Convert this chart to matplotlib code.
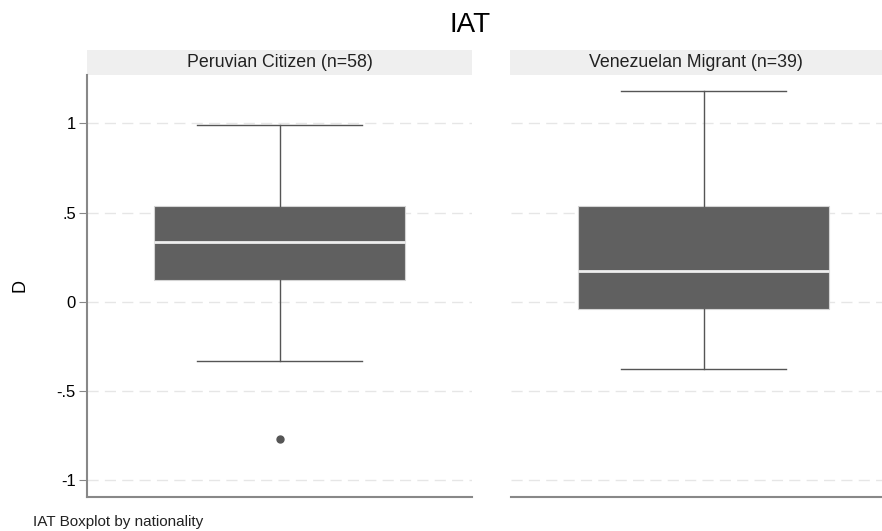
import matplotlib
matplotlib.use("Agg")
import matplotlib.pyplot as plt
from matplotlib.patches import Rectangle

plt.rcParams['font.family'] = ['Liberation Sans', 'DejaVu Sans']

# box summary
groups = ["Peruvian Citizen (n=58)", "Venezuelan Migrant (n=39)"]
whislo = [-0.332, -0.377]
q1 = [0.122, -0.043]
med = [0.333, 0.170]
q3 = [0.538, 0.536]
whishi = [0.993, 1.181]
fliers = [[-0.77], []]

yticks = [-1, -0.5, 0, 0.5, 1]
ylabels = ["-1", "-.5", "0", ".5", "1"]

W, H = 882, 531
fig = plt.figure(figsize=(W / 100, H / 100), dpi=100)

top, bottom = 75, 497
lefts = [87, 511]
pw = 385

for i, g in enumerate(groups):
    ax = fig.add_axes([lefts[i] / W, (H - bottom) / H, pw / W, (bottom - top) / H])
    stats = [dict(whislo=whislo[i], q1=q1[i], med=med[i], q3=q3[i],
                  whishi=whishi[i], fliers=fliers[i])]
    ax.bxp(stats, positions=[0.5], widths=0.652, capwidths=0.426,
           patch_artist=True, showfliers=True,
           boxprops=dict(facecolor="#606060", edgecolor="#d4d4d4", linewidth=0.8),
           medianprops=dict(color="#eeeeee", linewidth=2),
           whiskerprops=dict(color="#555555", linewidth=1),
           capprops=dict(color="#555555", linewidth=1),
           flierprops=dict(marker="o", markersize=5, markerfacecolor="#555555",
                           markeredgecolor="#555555"))
    ax.set_xlim(0, 1)
    ax.set_ylim(-1.095, 1.271)
    ax.set_xticks([])
    ax.set_yticks(yticks)
    ax.grid(axis="y", color="#e6e6e6", linestyle=(0, (8, 4.5)), linewidth=1)
    ax.set_axisbelow(True)
    for s in ["top", "right"]:
        ax.spines[s].set_visible(False)
    ax.spines["bottom"].set_color("#888888")
    ax.spines["bottom"].set_linewidth(1.5)
    if i == 0:
        ax.set_yticklabels(ylabels, fontsize=12)
        ax.spines["left"].set_color("#888888")
        ax.spines["left"].set_linewidth(1.5)
        ax.tick_params(axis="y", length=6, color="#888888", pad=2)
        ax.set_ylabel("D", fontsize=13, labelpad=20)
    else:
        ax.spines["left"].set_visible(False)
        ax.tick_params(axis="y", length=0, labelleft=False)
    # strip header
    sh = 25 / (bottom - top)
    x0 = 0 if i == 0 else -1 / pw
    sw = 1.0 if i == 0 else 1.05
    ax.add_patch(Rectangle((x0, 1.0), sw, sh, transform=ax.transAxes,
                           facecolor="#efefef", edgecolor="none", clip_on=False))
    cx = 0.5 if i == 0 else ((510 + W) / 2 - lefts[i]) / pw
    ax.text(cx, 1 + sh / 2, g, transform=ax.transAxes, ha="center", va="center",
            fontsize=12.8, color="#222222")

fig.text(470 / W, 1 - 25 / H, "IAT", ha="center", va="center", fontsize=20)
fig.text(33 / W, 1 - 522 / H, "IAT Boxplot by nationality", ha="left", va="center",
         fontsize=11, color="#222222")

fig.savefig("out.png", dpi=100)
